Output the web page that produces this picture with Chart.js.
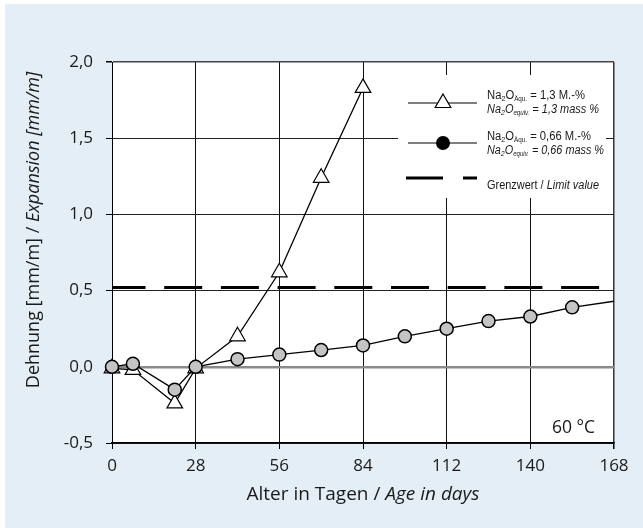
<!DOCTYPE html>
<html>
<head>
<meta charset="utf-8">
<script src="https://cdn.jsdelivr.net/npm/chart.js@4.4.1/dist/chart.umd.min.js"></script>
<style>
  html, body { margin: 0; padding: 0; background: #ffffff; }
  #wrap { width: 643px; height: 528px; position: relative; }
</style>
</head>
<body>
<div id="wrap"><canvas id="dehnungChart"></canvas></div>
<script>
// Alter in Tagen, Dehnung in mm/m
const daysHigh = [0, 7, 21, 28, 42, 56, 70, 84];
const expansionHigh = [-0.01, -0.02, -0.24, -0.01, 0.20, 0.62, 1.24, 1.83];

const daysLow = [0, 7, 21, 28, 42, 56, 70, 84, 98, 112, 126, 140, 154, 168];
const expansionLow = [0.0, 0.02, -0.15, 0.0, 0.05, 0.08, 0.11, 0.14, 0.20, 0.25, 0.30, 0.33, 0.39, 0.43];

const limitDays = [0, 168];
const limitValue = 0.52;

const xTicks = [0, 28, 56, 84, 112, 140, 168];
const yTicks = [-0.5, 0, 0.5, 1.0, 1.5, 2.0];

const FONT = '"Open Sans", "Noto Sans", sans-serif';
const LEG = '"Liberation Sans", Arial, sans-serif';
const panelBlue = '#e3eef6';

function toPoints(xs, ys) {
    return xs.map((x, i) => ({ x: x, y: ys[i] }));
}

// draws a row of text pieces with their own font and baseline shift;
// fit squeezes the row horizontally to the given width
function drawRuns(ctx, runs, x, y, align, fit) {
    let total = 0;
    runs.forEach(r => { ctx.font = r.font; total += ctx.measureText(r.text).width; });
    const sx = fit ? fit / total : 1;
    ctx.save();
    ctx.translate(align === 'center' ? x - total * sx / 2 : x, y);
    ctx.scale(sx, 1);
    let cx = 0;
    runs.forEach(r => {
        ctx.font = r.font;
        ctx.fillText(r.text, cx, r.dy || 0);
        cx += ctx.measureText(r.text).width;
    });
    ctx.restore();
}

function naRuns(sub, rest, italic) {
    const st = italic ? 'italic ' : '';
    return [
        { text: 'Na', font: st + '12.5px ' + LEG },
        { text: '2', font: st + '8px ' + LEG, dy: 2 },
        { text: 'O', font: st + '12.5px ' + LEG },
        { text: sub, font: st + '7px ' + LEG, dy: 2 },
        { text: rest, font: st + '12.5px ' + LEG }
    ];
}

const decorPlugin = {
    id: 'decor',
    beforeDraw(chart) {
        const ctx = chart.ctx;
        const a = chart.chartArea;
        ctx.save();
        ctx.fillStyle = '#ffffff';
        ctx.fillRect(0, 0, chart.width, chart.height);
        ctx.fillStyle = panelBlue;
        ctx.fillRect(5, 4, chart.width - 5, chart.height - 4);
        ctx.fillStyle = '#ffffff';
        ctx.fillRect(a.left, a.top, a.right - a.left, a.bottom - a.top);
        ctx.restore();
    },
    beforeDatasetsDraw(chart) {
        // white legend box sits over the grid
        const ctx = chart.ctx;
        ctx.save();
        ctx.fillStyle = '#ffffff';
        ctx.fillRect(398, 75, 208, 123);
        ctx.restore();
    },
    afterDraw(chart) {
        const ctx = chart.ctx;
        const a = chart.chartArea;
        ctx.save();
        ctx.textBaseline = 'alphabetic';

        // legend samples
        ctx.strokeStyle = '#000';
        ctx.lineWidth = 1.2;
        ctx.beginPath();
        ctx.moveTo(408, 103); ctx.lineTo(477, 103);
        ctx.moveTo(408, 143); ctx.lineTo(477, 143);
        ctx.stroke();
        ctx.beginPath();
        const r = 9;
        for (let k = 0; k < 3; k++) {
            const ang = k * 2 * Math.PI / 3;
            const px = 443 + Math.sin(ang) * r, py = 103 - Math.cos(ang) * r;
            if (k === 0) ctx.moveTo(px, py); else ctx.lineTo(px, py);
        }
        ctx.closePath();
        ctx.fillStyle = '#fff';
        ctx.fill();
        ctx.stroke();
        ctx.beginPath();
        ctx.arc(443, 143, 7, 0, Math.PI * 2);
        ctx.fillStyle = '#000';
        ctx.fill();
        ctx.lineWidth = 3;
        ctx.beginPath();
        ctx.moveTo(406, 178); ctx.lineTo(443, 178);
        ctx.moveTo(463, 178); ctx.lineTo(477, 178);
        ctx.stroke();

        ctx.fillStyle = '#1a1a1a';
        drawRuns(ctx, naRuns('Äqu.', ' = 1,3 M.-%', false), 487, 99, 'left', 98);
        drawRuns(ctx, naRuns('equiv.', ' = 1,3 mass %', true), 487, 113, 'left', 112);
        drawRuns(ctx, naRuns('Äqu.', ' = 0,66 M.-%', false), 487, 140, 'left', 104);
        drawRuns(ctx, naRuns('equiv.', ' = 0,66 mass %', true), 487, 154, 'left', 117);
        drawRuns(ctx, [
            { text: 'Grenzwert / ', font: '12.5px ' + LEG },
            { text: 'Limit value', font: 'italic 12.5px ' + LEG }
        ], 487, 189, 'left', 112);

        // temperature note
        ctx.font = '17.5px ' + FONT;
        ctx.fillText('60 °C', 552, 433);

        // axis titles
        drawRuns(ctx, [
            { text: 'Alter in Tagen / ', font: '19px ' + FONT },
            { text: 'Age in days', font: 'italic 19px ' + FONT }
        ], (a.left + a.right) / 2, 500, 'center');

        ctx.translate(39, 230);
        ctx.rotate(-Math.PI / 2);
        drawRuns(ctx, [
            { text: 'Dehnung [mm/m] / ', font: '18px ' + FONT },
            { text: 'Expansion [mm/m]', font: 'italic 18px ' + FONT }
        ], 0, 0, 'center');
        ctx.restore();
    }
};

new Chart(document.getElementById('dehnungChart'), {
    type: 'line',
    data: {
        datasets: [
            {
                label: 'Na2O 0,66 M.-%',
                data: toPoints(daysLow, expansionLow),
                borderColor: '#000',
                borderWidth: 1.3,
                backgroundColor: '#c4c4c4',
                pointBackgroundColor: '#c4c4c4',
                pointBorderColor: '#000',
                pointBorderWidth: 1.5,
                pointRadius: daysLow.map(d => d >= 168 ? 0 : 6.5),
                tension: 0,
                clip: { left: 12, top: 12, right: 0, bottom: 12 },
                order: 1
            },
            {
                label: 'Na2O 1,3 M.-%',
                data: toPoints(daysHigh, expansionHigh),
                borderColor: '#000',
                borderWidth: 1.3,
                pointStyle: 'triangle',
                pointBackgroundColor: '#fff',
                pointBorderColor: '#000',
                pointBorderWidth: 1.2,
                pointRadius: 9,
                tension: 0,
                clip: { left: 12, top: 12, right: 0, bottom: 12 },
                order: 2
            },
            {
                label: 'Grenzwert',
                data: limitDays.map(d => ({ x: d, y: limitValue })),
                borderColor: '#000',
                borderWidth: 3,
                borderDash: [38, 18.7],
                borderDashOffset: 4.5,
                pointRadius: 0,
                order: 3
            }
        ]
    },
    options: {
        responsive: true,
        maintainAspectRatio: false,
        animation: false,
        events: [],
        layout: { padding: { left: 0, right: 29, top: 62, bottom: 0 } },
        plugins: { legend: { display: false }, tooltip: { enabled: false } },
        scales: {
            x: {
                type: 'linear',
                min: 0,
                max: 168,
                afterBuildTicks: scale => { scale.ticks = xTicks.map(v => ({ value: v })); },
                afterFit: scale => { scale.height = 85; },
                grid: {
                    color: ctx => ctx.tick && ctx.tick.value === 168 ? '#333' : '#111',
                    lineWidth: ctx => ctx.tick && ctx.tick.value === 168 ? 1.5 : 1,
                    tickLength: 6,
                    tickColor: '#000'
                },
                border: { color: '#000', width: 1.5 },
                ticks: { color: '#1a1a1a', padding: 7, maxRotation: 0, font: { family: FONT, size: 17 } }
            },
            y: {
                min: -0.5,
                max: 2.0,
                afterBuildTicks: scale => { scale.ticks = yTicks.map(v => ({ value: v })); },
                afterFit: scale => { scale.width = 112; },
                grid: {
                    color: ctx => {
                        const v = ctx.tick ? ctx.tick.value : null;
                        if (v === 0) return '#8a8a8a';
                        if (v === 2) return '#444';
                        return '#222';
                    },
                    lineWidth: ctx => {
                        const v = ctx.tick ? ctx.tick.value : null;
                        if (v === 0) return 2.5;
                        if (v === 2) return 1.5;
                        return 1;
                    },
                    tickLength: 6,
                    tickColor: '#000'
                },
                border: { color: '#000', width: 1 },
                ticks: {
                    color: '#1a1a1a',
                    padding: 13,
                    font: { family: FONT, size: 17 },
                    callback: v => v.toFixed(1).replace('.', ',')
                }
            }
        }
    },
    plugins: [decorPlugin]
});
</script>
</body>
</html>
